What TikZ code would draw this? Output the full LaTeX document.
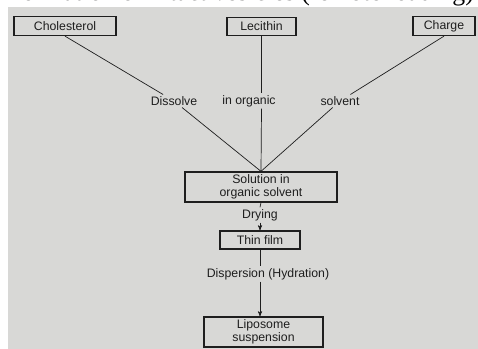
\documentclass[tikz,border=0pt]{standalone}
\usepackage{fontspec}
\setmainfont{Liberation Serif}
\setsansfont{Liberation Sans}
\usetikzlibrary{positioning, arrows}
\definecolor{scangray}{RGB}{216,216,214}
\definecolor{inkgray}{RGB}{30,30,30}
\tikzset{
x=0.03cm, y=-0.03cm, % one unit is one pixel of the scan
>=stealth', % small bold arrow heads
box/.style={draw=inkgray, line width=1.1pt, inner sep=0pt, align=center, text=inkgray, font=\sffamily\fontsize{10.5}{11.5}\selectfont}, % the framed steps
lbl/.style={inner sep=1.5pt, text=inkgray, font=\sffamily\fontsize{10.5}{11.5}\selectfont}, % words on the connectors
link/.style={draw=inkgray, line width=0.6pt},
}

\begin{document}
\begin{tikzpicture}
    \useasboundingbox (0,0) rectangle (478,349);
    \fill[scangray] (8,7) rectangle (478,349);
    \node[anchor=base east, inner sep=0pt, font=\fontsize{22}{22}\selectfont] (title) at (474,1) {formation of intact vesicles (remote loading)};

    \node[box, minimum width=3.06cm, minimum height=0.57cm] (chol) at (65,26) {Cholesterol};
    \node[box, minimum width=2.07cm, minimum height=0.54cm] (lec) at (261.5,26.5) {Lecithin};
    \node[box, minimum width=1.86cm, minimum height=0.57cm] (chg) at (444,26) {Charge};
    \node[box, minimum width=4.56cm, minimum height=0.9cm] (sol) at (261,187) {Solution in\\organic solvent};
    \node[box, minimum width=2.4cm, minimum height=0.54cm] (film) at (260,240) {Thin film};
    \node[box, minimum width=3.57cm, minimum height=0.9cm] (lipo) at (263.5,332) {Liposome\\suspension};

    \node[lbl] (dis) at (174,101) {Dissolve};
    \node[lbl] (inorg) at (249,101) {in organic};
    \node[lbl] (solv) at (340,101) {solvent};
    \node[lbl] (dry) at (260,215) {Drying};
    \node[lbl] (disp) at (268,274) {Dispersion (Hydration)};

    \draw[link] (chol.south) -- (dis);
    \draw[link] (dis) -- (sol.north);
    \draw[link] (lec.south) -- (lec.south |- inorg.north);
    \draw[link] (lec.south |- inorg.south) -- (sol.north);
    \draw[link] (chg.south) -- (solv);
    \draw[link] (solv) -- (sol.north);
    \draw[link] (sol.south) -- (dry.north);
    \draw[link, ->] (dry.south) -- (film.north);
    \draw[link] (film.south) -- (film.south |- disp.north);
    \draw[link, ->] (film.south |- disp.south) -- (film.south |- lipo.north);
\end{tikzpicture}
\end{document}
